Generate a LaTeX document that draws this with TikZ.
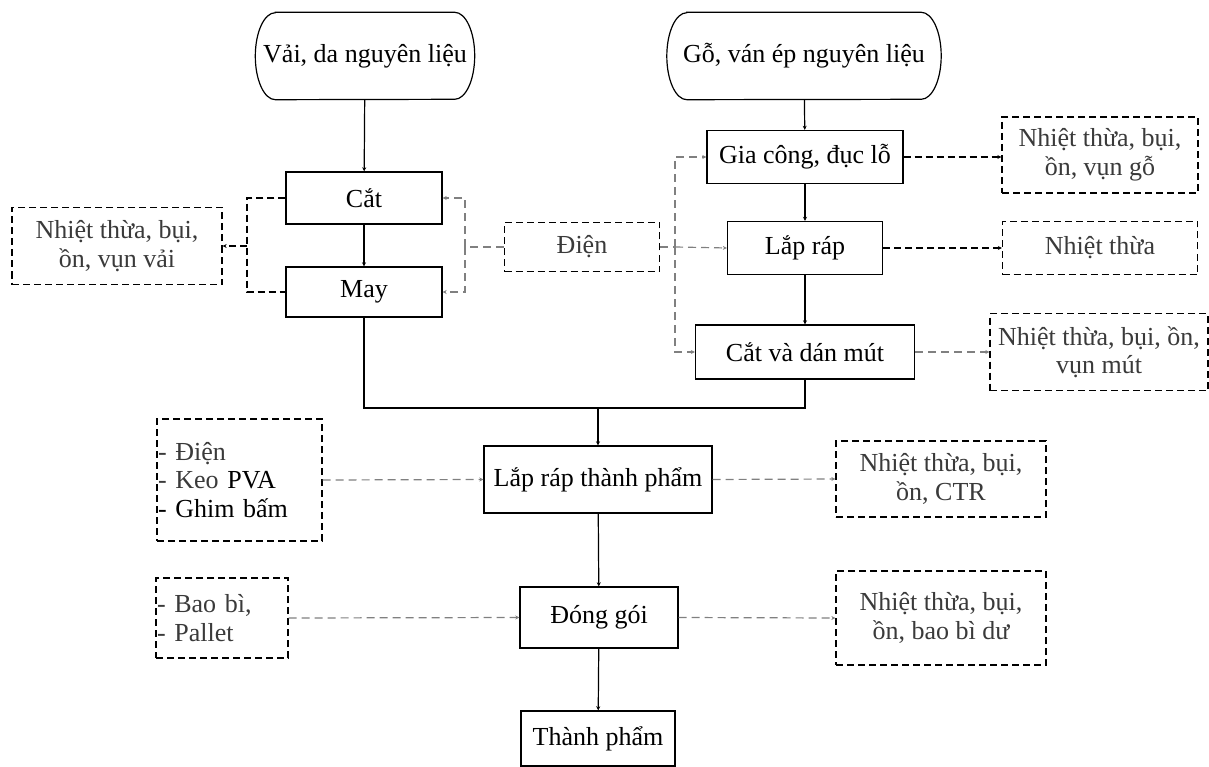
\documentclass[tikz,border=0pt]{standalone}
\usepackage{fontspec}
\setmainfont{Liberation Serif}
\usetikzlibrary{arrows.meta}
\definecolor{txtgray}{HTML}{3A3A3A}
\definecolor{linegray}{HTML}{808080}
\begin{document}
\begin{tikzpicture}[x=1pt,y=1pt,
  every node/.style={font=\fontsize{26}{28.5}\selectfont, inner sep=0pt, align=center},
  proc/.style={draw=black, line width=1.4pt, text=black},
  term/.style={text=black},
  waste/.style={draw=black, line width=1.3pt, dash pattern=on 7pt off 4pt, text=txtgray},
  supply/.style={draw=black, line width=1.3pt, dash pattern=on 7pt off 4pt, text=txtgray, align=left},
  flow/.style={draw=black, line width=1.2pt, -{Stealth[length=4pt,width=4pt]}},
  plainflow/.style={draw=black, line width=1.2pt},
  blkdash/.style={draw=black, line width=1.2pt, dash pattern=on 7pt off 4pt},
  graydash/.style={draw=linegray, line width=1.2pt, dash pattern=on 8pt off 5pt},
  tip/.style={-{Stealth[length=4pt,width=4pt]}}
]
\useasboundingbox (0,0) rectangle (1209,-767);

% raw materials (terminal shapes with elliptic ends)
\node[term, minimum width=219pt, minimum height=87pt] (v) at (365,-56) {Vải, da nguyên liệu};
\node[term, minimum width=274pt, minimum height=87pt] (g) at (804,-56) {Gỗ, ván ép nguyên liệu};
\foreach \n in {v,g}{
  \draw[line width=1.2pt] ([xshift=20pt]\n.north west) -- ([xshift=-20pt]\n.north east)
    arc[start angle=90, end angle=-90, x radius=20pt, y radius=43.5pt]
    -- ([xshift=20pt]\n.south west)
    arc[start angle=270, end angle=90, x radius=20pt, y radius=43.5pt] -- cycle;
}

% fabric line
\node[proc, minimum width=156pt, minimum height=52pt] (cat) at (364,-198) {Cắt};
\node[proc, minimum width=156pt, minimum height=50pt] (may) at (364,-292) {May};
\node[waste, minimum width=210pt, minimum height=77pt] (wv) at (117,-246) {Nhiệt thừa, bụi,\\ồn, vụn vải};

% electricity
\node[waste, minimum width=155pt, minimum height=49pt] (dien) at (582,-247) {Điện};

% wood line
\node[proc, minimum width=196pt, minimum height=53pt] (gc) at (805,-157) {Gia công, đục lỗ};
\node[proc, minimum width=155pt, minimum height=53pt] (lr) at (805,-248) {Lắp ráp};
\node[proc, minimum width=219pt, minimum height=54pt] (cdm) at (805,-352) {Cắt và dán mút};
\node[waste, minimum width=196pt, minimum height=76pt] (w1) at (1100,-155) {Nhiệt thừa, bụi,\\ồn, vụn gỗ};
\node[waste, minimum width=195pt, minimum height=53pt] (w2) at (1100,-248) {Nhiệt thừa};
\node[waste, minimum width=218pt, minimum height=77pt] (w3) at (1099,-352) {Nhiệt thừa, bụi, ồn,\\vụn mút};

% assembly and packing
\node[proc, minimum width=228pt, minimum height=67pt] (lrtp) at (598,-479.5) {Lắp ráp thành phẩm};
\node[supply, minimum width=165pt, minimum height=122pt, text width=163pt] (in1) at (239.5,-480) {- Điện\\- Keo \textcolor{black}{PVA}\\\textcolor{black}{- Ghim bấm}};
\node[waste, minimum width=210pt, minimum height=76pt] (w4) at (941,-479) {Nhiệt thừa, bụi,\\ồn, CTR};

\node[proc, minimum width=158pt, minimum height=61pt] (dg) at (599,-617.5) {Đóng gói};
\node[supply, minimum width=132pt, minimum height=80pt, text width=130pt] (in2) at (222,-618) {- Bao bì,\\- Pallet};
\node[waste, minimum width=210pt, minimum height=94pt] (w5) at (941,-618) {Nhiệt thừa, bụi,\\ồn, bao bì dư};

\node[proc, minimum width=154pt, minimum height=55pt] (tp) at (598,-738.5) {Thành phẩm};

% main flow
\draw[flow] (v) -- (cat);
\draw[flow] (cat) -- (may);
\draw[flow] (g) -- (gc);
\draw[flow] (gc) -- (lr);
\draw[flow] (lr) -- (cdm);
\coordinate (j) at (598,-408);
\draw[plainflow] (may.south) |- (j);
\draw[plainflow] (cdm.south) |- (j);
\draw[flow] (j) -- (lrtp.north);
\draw[flow] (lrtp) -- (dg);
\draw[flow] (dg) -- (tp);

% fabric line emissions
\coordinate (lb) at (247,-246);
\draw[blkdash] (cat.west) -| (lb) |- (may.west);
\draw[blkdash, tip] (lb) -- (wv.east);

% electricity to fabric line
\coordinate (rb) at (465,-247);
\draw[graydash] (dien.west) -- (rb);
\draw[graydash, tip] (rb) |- (cat.east);
\draw[graydash, tip] (rb) |- (may.east);

% electricity to wood line
\coordinate (db) at (675,-247);
\draw[graydash] (dien.east) -- (db);
\draw[graydash, tip] (db) |- (gc.west);
\draw[graydash, tip] (db) -- (lr.west);
\draw[graydash, tip] (db) |- (cdm.west);

% wood line emissions
\draw[blkdash, tip] (gc.east) -- (gc.east -| w1.west);
\draw[blkdash, tip] (lr.east) -- (w2.west);
\draw[graydash, tip] (cdm.east) -- (w3.west);

% inputs and emissions of assembly and packing
\draw[graydash, tip] (in1.east) -- (lrtp.west);
\draw[graydash, tip] (lrtp.east) -- (w4.west);
\draw[graydash, tip] (in2.east) -- (dg.west);
\draw[graydash, tip] (dg.east) -- (w5.west);
\end{tikzpicture}
\end{document}
